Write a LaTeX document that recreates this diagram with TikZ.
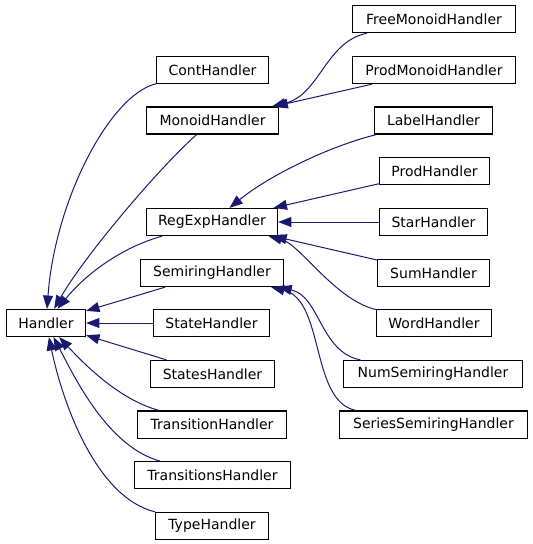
\documentclass[tikz,border=0pt]{standalone}
\usepackage{fontspec}
\setmainfont{DejaVu Sans}
\usetikzlibrary{arrows.meta}
\definecolor{edgeblue}{RGB}{25,25,112}
\tikzset{
  box/.style={rectangle,draw,line width=0.9pt,fill=white,minimum height=20.3pt,inner sep=0pt,
    font=\fontsize{10.5}{12}\selectfont},
  line/.style={draw=edgeblue,line width=0.75pt,-{Triangle[length=10pt,width=7.5pt]}}
}

\begin{document}
\begin{tikzpicture}[x=0.75pt,y=-0.75pt]
\useasboundingbox (0,0) rectangle (533,544);
% left column
\node[box, minimum width=59.3pt] (handler) at (46,323) {Handler};
% middle column
\node[box, minimum width=84pt] (cont) at (212.5,70) {ContHandler};
\node[box, minimum width=99pt] (monoid) at (212.5,120.5) {MonoidHandler};
\node[box, minimum width=98.3pt] (regexp) at (212,222) {RegExpHandler};
\node[box, minimum width=107.3pt] (semiring) at (212,273) {SemiringHandler};
\node[box, minimum width=87pt] (state) at (211.5,323) {StateHandler};
\node[box, minimum width=93pt] (states) at (212.5,374) {StatesHandler};
\node[box, minimum width=111.8pt] (transition) at (212,424.6) {TransitionHandler};
\node[box, minimum width=117pt] (transitions) at (212.5,475.3) {TransitionsHandler};
\node[box, minimum width=84.8pt] (type) at (212,526) {TypeHandler};
% right column
\node[box, minimum width=122.3pt] (freemonoid) at (434,19) {FreeMonoidHandler};
\node[box, minimum width=122.3pt] (prodmonoid) at (434,70) {ProdMonoidHandler};
\node[box, minimum width=88.5pt] (label) at (433.5,120.5) {LabelHandler};
\node[box, minimum width=82.5pt] (prod) at (434.5,171) {ProdHandler};
\node[box, minimum width=81pt] (star) at (433.5,222) {StarHandler};
\node[box, minimum width=84pt] (sum) at (433.5,273) {SumHandler};
\node[box, minimum width=86.3pt] (word) at (434,323) {WordHandler};
\node[box, minimum width=134.3pt] (numsr) at (433,374) {NumSemiringHandler};
\node[box, minimum width=141pt] (seriessr) at (433.5,424.6) {SeriesSemiringHandler};
% inheritance to Handler
\draw[line] (cont) .. controls (110,95) and (55,200) .. (handler);
\draw[line] (monoid) .. controls (160,167) and (85,255) .. (handler);
\draw[line] (regexp) .. controls (120,248) and (85,275) .. (handler);
\draw[line] (semiring) -- (handler);
\draw[line] (state) -- (handler);
\draw[line] (states) -- (handler);
\draw[line] (transition) .. controls (120,400) and (85,365) .. (handler);
\draw[line] (transitions) .. controls (108,447) and (75,378) .. (handler);
\draw[line] (type) .. controls (95,497) and (62,400) .. (handler);
% inheritance to MonoidHandler
\draw[line] (freemonoid) .. controls (325,42) and (320,95) .. (monoid);
\draw[line] (prodmonoid) -- (monoid);
% inheritance to RegExpHandler
\draw[line] (label) .. controls (330,146) and (270,175) .. (regexp);
\draw[line] (prod) -- (regexp);
\draw[line] (star) -- (regexp);
\draw[line] (sum) -- (regexp);
\draw[line] (word) .. controls (335,300) and (300,244) .. (regexp);
% inheritance to SemiringHandler
\draw[line] (numsr) .. controls (320,352) and (320,296) .. (semiring);
\draw[line] (seriessr) .. controls (310,402) and (325,300) .. (semiring);
\end{tikzpicture}
\end{document}
